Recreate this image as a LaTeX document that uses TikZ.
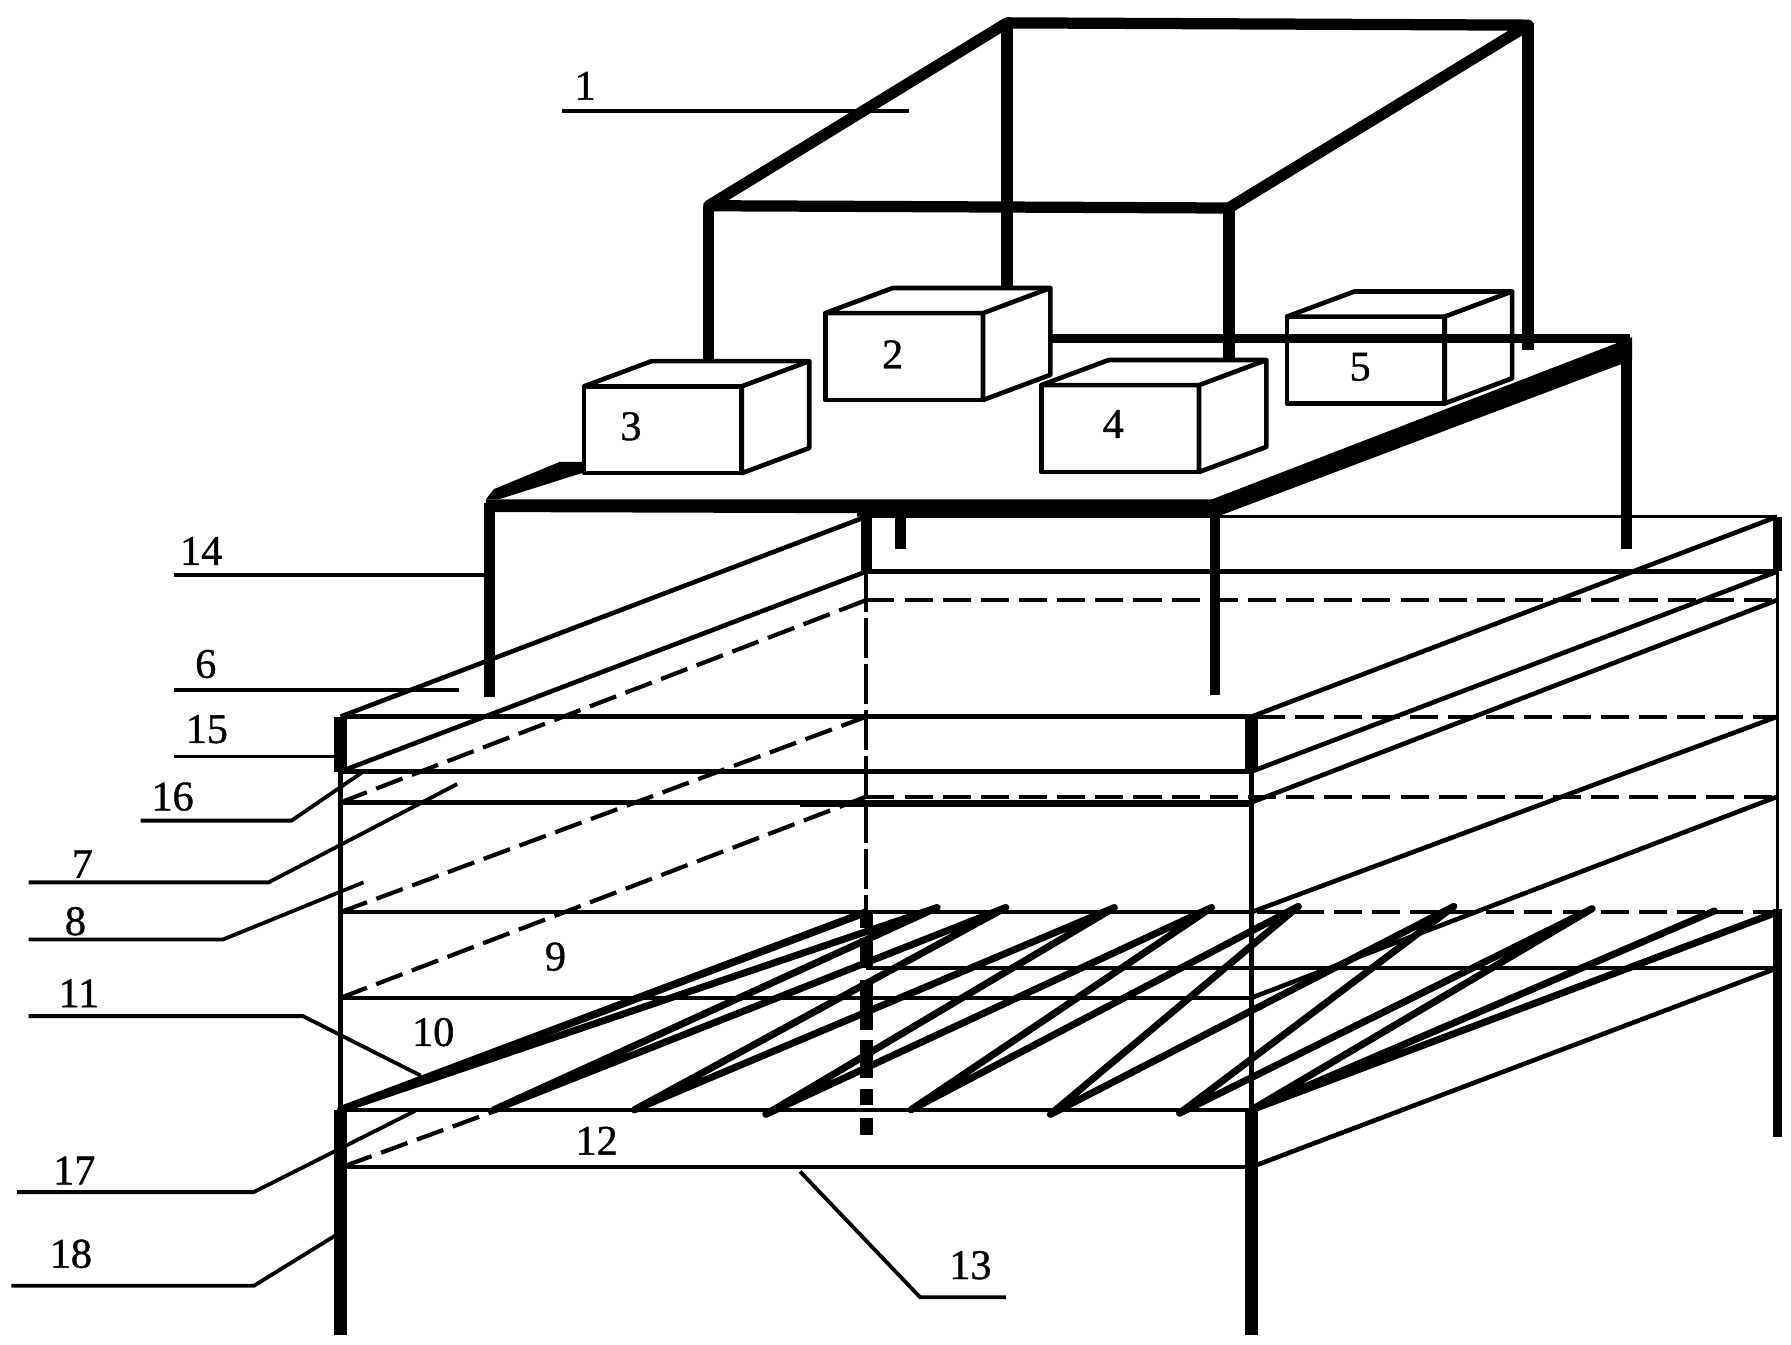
\documentclass[tikz,border=0pt]{standalone}
\usepackage{fontspec}
\setmainfont[RawFeature={embolden=1}]{Liberation Serif}
\tikzset{
  numlabel/.style={font=\fontsize{21}{23}\selectfont, inner sep=0pt},
  leader/.style={line width=1.9pt},
  thinline/.style={line width=2.3pt},
  hairline/.style={line width=1.5pt},
  heavyline/.style={line width=6.8pt},
  legline/.style={line width=5.4pt},
  dashline/.style={line width=2.1pt, dash pattern=on 14pt off 5pt},
  boxline/.style={line width=2.3pt, fill=white, line join=round},
}
\begin{document}
\begin{tikzpicture}[x=0.02cm, y=-0.02cm]
    \useasboundingbox (0,0) rectangle (1567,1176);

    % canopy frame
    \draw [heavyline, line width=5.6pt, line join=round] (620,180) -- (1075,182) -- (1337,22) -- (881,20) -- cycle;
    \foreach \x/\yend in {620/316, 881/253, 1075/318, 1337/306}
        \draw [legline, line width=5.8pt] (\x,180) -- (\x,\yend);
    \draw [legline, line width=5.8pt] (881,20) -- (881,180);
    \draw [legline, line width=5.8pt] (1337,20) -- (1337,180);

    % platform legs
    \draw [legline] (428,440) -- (428,610);
    \draw [legline] (1063,440) -- (1063,608);
    \draw [legline] (1423,300) -- (1423,480);
    \draw [legline] (788,450) -- (788,480);

    % platform edges
    \fill (425,437) -- (1065,437) -- (1065,452) -- (750,452) -- (750,449) -- (425,448) -- cycle;
    \fill (1060,437) -- (1428,295) -- (1428,315) -- (1065,452) -- cycle;
    \fill (425,437) -- (432,428) -- (490,404) -- (515,404) -- (515,412) -- (436,437) -- cycle;

    % the five boxes
    \foreach \x/\y/\lx/\ly/\lab in {511/338/552/373/3, 722/274/781/310/2, 911/337/974/371/4, 1126/277/1190/321/5} {
        \draw [boxline] (\x,\y) rectangle ++(138,76);
        \draw [boxline] (\x,\y) -- ++(59,-22) -- ++(138,0) -- ++(0,76) -- ++(-59,22) -- ++(0,-76) -- cycle;
        \draw [boxline, fill=none] (\x+138,\y) -- ++(59,-22);
        \node [numlabel] (box\lab) at (\lx,\ly) {\lab};
    }
    % back edge of the platform
    \draw [line width=4.5pt] (920,296) -- (1426,296);

    % front face of the tank
    \foreach \y in {627, 675, 798, 873, 971, 1021}
        \draw [thinline] (298,\y) -- (1095,\y);
    \draw [thinline] (298,702) -- (700,702);
    \draw [line width=3pt] (700,703) -- (1095,703);
    \foreach \x in {298, 1095} {
        \draw [heavyline] (\x,627) -- (\x,675);
        \draw [thinline] (\x,675) -- (\x,971);
        \draw [heavyline] (\x,971) -- (\x,1168);
    }

    % back face of the tank
    \draw [hairline] (758,452) -- (1555,452);
    \draw [thinline] (758,500) -- (1555,500);
    \draw [thinline] (758,847) -- (1555,847);
    \draw [dashline] (758,525) -- (1555,525);
    \draw [dashline] (1100,627) -- (1555,627);
    \draw [dashline] (758,697) -- (1555,697);
    \draw [dashline, line width=1.7pt] (1100,798) -- (1555,798);

    % back posts
    \draw [legline] (758,450) -- (758,500);
    \draw [line width=2pt, dash pattern=on 20pt off 3pt] (758,500) -- (758,800);
    \foreach \ya/\yb in {800/812, 821/847, 857/901, 910/943, 953/967, 978/993}
        \draw [legline, line width=6.2pt] (758,\ya) -- (758,\yb);
    \draw [legline, line width=4.6pt] (1555,452) -- (1555,500);
    \draw [hairline] (1555,500) -- (1555,798);
    \draw [legline, line width=4.6pt] (1555,795) -- (1555,995);

    % depth lines on the left
    \draw [thinline] (298,627) -- (758,452);
    \draw [thinline] (298,675) -- (758,500);
    \draw [dashline] (298,702) -- (758,525);
    \draw [dashline] (298,798) -- (758,627);
    \draw [dashline] (298,873) -- (758,697);
    \draw [dashline] (302,1020) -- (436,971);

    % depth lines on the right
    \foreach \a/\b in {627/452, 675/500, 702/525, 798/627, 873/697, 1021/847}
        \draw [thinline] (1095,\a) -- (1555,\b);

    % filter plates
    \draw [line width=3.8pt] (298,971) -- (758,798);
    \draw [line width=3.5pt, line join=round, line cap=round] (298,971) -- (820,794) -- (432,971) -- (880,794) -- (555,971)
        -- (975,794) -- (670,975) -- (1060,794) -- (797,971) -- (1136,793) -- (919,975) -- (1272,793)
        -- (1032,974) -- (1393,795) -- (1095,971) -- (1500,797) -- (1095,971) -- (1555,798);

    % numbers and their leaders
    \node [numlabel] (n1) at (512,75) {1};
    \draw [leader] (492,97) -- (795,97);
    \node [numlabel] (n14) at (176,482) {14};
    \draw [leader] (152,503) -- (425,503);
    \node [numlabel] (n6) at (180,581) {6};
    \draw [leader] (152,604) -- (402,604);
    \node [numlabel] (n15) at (181,638) {15};
    \draw [hairline] (152,662) -- (296,662);
    \node [numlabel] (n16) at (151,697) {16};
    \draw [leader] (123,718) -- (255,718) -- (318,675);
    \node [numlabel] (n7) at (72,756) {7};
    \draw [leader] (25,772) -- (235,772) -- (400,686);
    \node [numlabel] (n8) at (66,806) {8};
    \draw [leader] (25,822) -- (195,822) -- (318,772);
    \node [numlabel] (n9) at (486,837) {9};
    \node [numlabel] (n10) at (379,903) {10};
    \node [numlabel] (n11) at (69,869) {11};
    \draw [leader] (25,889) -- (265,889) -- (368,941);
    \node [numlabel] (n12) at (522,998) {12};
    \node [numlabel] (n13) at (849,1107) {13};
    \draw [leader] (700,1025) -- (805,1135) -- (880,1135);
    \node [numlabel] (n17) at (65,1024) {17};
    \draw [leader] (15,1043) -- (222,1043) -- (363,972);
    \node [numlabel] (n18) at (62,1097) {18};
    \draw [leader] (10,1125) -- (222,1125) -- (295,1080);
\end{tikzpicture}
\end{document}
